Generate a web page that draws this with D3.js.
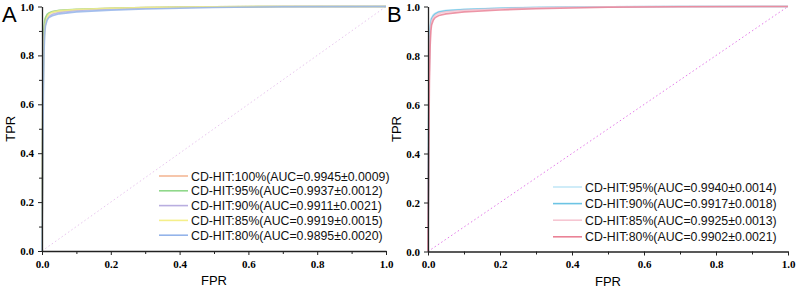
<!DOCTYPE html>
<html>
<head>
<meta charset="utf-8">
<script src="https://cdn.jsdelivr.net/npm/d3@7"></script>
<style>
  body { margin: 0; background: #fff; }
  .tick text { font-family: "Liberation Serif", serif; font-weight: bold; font-size: 11px; }
</style>
</head>
<body>
<div id="chart"></div>
<script>
// shared FPR grid for all ROC curves
const fpr = [0, 0.002, 0.004, 0.006, 0.008, 0.01, 0.015, 0.02, 0.03, 0.05, 0.1, 0.2, 0.3, 0.5, 0.7, 1.0];

// panel A (CD-HIT 100% .. 80%)
const namesA = ["CD-HIT:100%(AUC=0.9945±0.0009)", "CD-HIT:95%(AUC=0.9937±0.0012)", "CD-HIT:90%(AUC=0.9911±0.0021)",
                "CD-HIT:85%(AUC=0.9919±0.0015)", "CD-HIT:80%(AUC=0.9895±0.0020)"];
const tprA100 = [0, 0.55, 0.82, 0.90, 0.93, 0.95, 0.965, 0.972, 0.978, 0.983, 0.988, 0.993, 0.996, 0.999, 1, 1];
const tprA95  = [0, 0.60, 0.85, 0.92, 0.945, 0.955, 0.968, 0.974, 0.979, 0.984, 0.989, 0.993, 0.996, 0.999, 1, 1];
const tprA90  = [0, 0.45, 0.75, 0.87, 0.91, 0.93, 0.95, 0.96, 0.968, 0.976, 0.984, 0.99, 0.994, 0.998, 1, 1];
const tprA85  = [0, 0.40, 0.70, 0.85, 0.90, 0.93, 0.955, 0.968, 0.976, 0.982, 0.988, 0.993, 0.996, 0.999, 1, 1];
const tprA80  = [0, 0.35, 0.65, 0.82, 0.89, 0.92, 0.945, 0.955, 0.962, 0.97, 0.978, 0.985, 0.99, 0.996, 0.999, 1];

// panel B (CD-HIT 95% .. 80%)
const namesB = ["CD-HIT:95%(AUC=0.9940±0.0014)", "CD-HIT:90%(AUC=0.9917±0.0018)",
                "CD-HIT:85%(AUC=0.9925±0.0013)", "CD-HIT:80%(AUC=0.9902±0.0021)"];
const tprB95 = [0, 0.60, 0.85, 0.92, 0.945, 0.955, 0.967, 0.973, 0.979, 0.984, 0.989, 0.994, 0.997, 0.999, 1, 1];
const tprB90 = [0, 0.55, 0.82, 0.90, 0.935, 0.95, 0.962, 0.97, 0.977, 0.982, 0.988, 0.993, 0.996, 0.999, 1, 1];
const tprB85 = [0, 0.50, 0.78, 0.88, 0.92, 0.94, 0.955, 0.963, 0.972, 0.978, 0.985, 0.991, 0.995, 0.999, 1, 1];
const tprB80 = [0, 0.40, 0.70, 0.84, 0.90, 0.925, 0.945, 0.955, 0.963, 0.97, 0.978, 0.986, 0.991, 0.997, 0.999, 1];

const ticks = [0, 0.2, 0.4, 0.6, 0.8, 1.0];

const svg = d3.select("#chart").append("svg")
    .attr("width", 799)
    .attr("height", 292);

function drawPanel(opt) {
    const x = d3.scaleLinear().domain([0, 1]).range([opt.x0, opt.x1]);
    const y = d3.scaleLinear().domain([0, 1]).range([opt.y0, opt.y1]);
    const g = svg.append("g");

    // diagonal
    g.append("line")
        .attr("x1", x(0)).attr("y1", y(0)).attr("x2", x(1)).attr("y2", y(1))
        .attr("stroke", opt.diag).attr("stroke-width", 1)
        .attr("stroke-dasharray", "1.5,2.5");

    const line = d3.line().x((d, i) => x(fpr[i])).y(d => y(d));
    opt.series.forEach((s, i) => {
        g.append("path")
            .attr("d", line(s))
            .attr("fill", "none")
            .attr("stroke", opt.colors[i])
            .attr("stroke-width", 1.6)
            .attr("stroke-opacity", 0.85);
    });

    // minor ticks
    const minor = [0.1, 0.3, 0.5, 0.7, 0.9];
    g.append("g").attr("transform", `translate(0,${opt.y0})`)
        .call(d3.axisBottom(x).tickValues(minor).tickSize(3).tickFormat(""))
        .call(a => a.select(".domain").remove());
    g.append("g").attr("transform", `translate(${opt.x0},0)`)
        .call(d3.axisLeft(y).tickValues(minor).tickSize(3).tickFormat(""))
        .call(a => a.select(".domain").remove());

    g.append("g").attr("transform", `translate(0,${opt.y0})`)
        .call(d3.axisBottom(x).tickValues(ticks).tickSize(4).tickSizeOuter(0).tickPadding(5).tickFormat(d3.format(".1f")));
    g.append("g").attr("transform", `translate(${opt.x0},0)`)
        .call(d3.axisLeft(y).tickValues(ticks).tickSize(4).tickSizeOuter(0).tickPadding(4).tickFormat(d3.format(".1f")));
    g.selectAll(".domain").attr("stroke", "#222").attr("stroke-width", 1.3);
    g.selectAll(".tick line").attr("stroke", "#222");

    g.append("text")
        .attr("transform", `translate(${opt.x0 - 27},${(opt.y0 + opt.y1) / 2}) rotate(-90)`)
        .attr("text-anchor", "middle")
        .style("font-family", "Liberation Sans, Arial, sans-serif").style("font-size", "13px")
        .text("TPR");
    g.append("text")
        .attr("x", (opt.x0 + opt.x1) / 2).attr("y", opt.y0 + 34)
        .attr("text-anchor", "middle")
        .style("font-family", "Liberation Sans, Arial, sans-serif").style("font-size", "13px")
        .text("FPR");

    g.append("text")
        .attr("x", opt.lx).attr("y", 22)
        .style("font-family", "Liberation Sans, Arial, sans-serif").style("font-size", "22px")
        .text(opt.label);

    // legend
    opt.names.forEach((n, i) => {
        const ly = opt.legY + i * opt.legStep;
        g.append("line")
            .attr("x1", opt.legX).attr("x2", opt.legX + 29)
            .attr("y1", ly).attr("y2", ly)
            .attr("stroke", opt.colors[i]).attr("stroke-width", 1.6);
        g.append("text")
            .attr("x", opt.legX + 32).attr("y", ly + 4.5)
            .style("font-family", "Liberation Sans, Arial, sans-serif").style("font-size", "12.3px")
            .attr("fill", "#111")
            .text(n);
    });
}

drawPanel({
    x0: 42, x1: 386, y0: 251, y1: 6.5,
    series: [tprA100, tprA95, tprA90, tprA85, tprA80],
    colors: ["#f4b896", "#8fd88a", "#b9aee0", "#f5ef8a", "#94b4ea"],
    names: namesA, diag: "#e8c6ee", label: "A", lx: 2,
    legX: 159, legY: 176, legStep: 14.8
});

drawPanel({
    x0: 428, x1: 788, y0: 251.5, y1: 6.5,
    series: [tprB95, tprB90, tprB85, tprB80],
    colors: ["#c3e8f7", "#6cc4e4", "#f6c6d2", "#ea8296"],
    names: namesB, diag: "#e47ae9", label: "B", lx: 387,
    legX: 553, legY: 187, legStep: 16.6
});
</script>
</body>
</html>
